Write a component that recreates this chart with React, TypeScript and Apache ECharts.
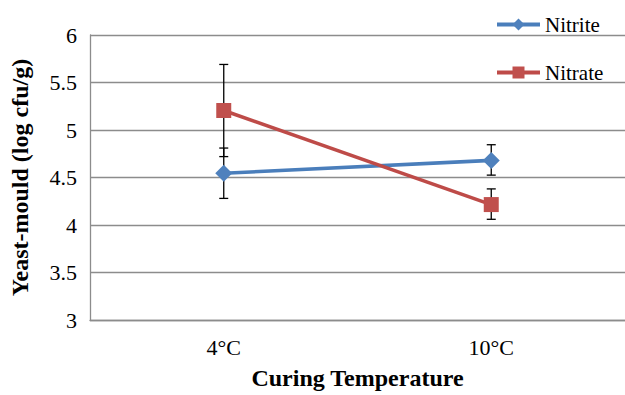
import React, { useEffect, useRef } from "react";
import * as echarts from "echarts";

const categories = ["4°C", "10°C"];
const seriesNames = ["Nitrite", "Nitrate"];
const nitrite = [4.545, 4.68];
const nitriteLow = [4.28, 4.525];
const nitriteHigh = [4.81, 4.845];
const nitrate = [5.205, 4.215];
const nitrateLow = [4.72, 4.06];
const nitrateHigh = [5.69, 4.38];
const yTicks = { min: 3, max: 6, interval: 0.5 };

const FONT = "Liberation Serif";

export default function App() {
  const ref = useRef<HTMLDivElement>(null);
  useEffect(() => {
    if (!ref.current) return;
    const chart = echarts.init(ref.current, undefined, { renderer: "svg" });
    const errData: number[][] = [];
    categories.forEach((_, i) => {
      errData.push([i, nitriteLow[i], nitriteHigh[i]]);
      errData.push([i, nitrateLow[i], nitrateHigh[i]]);
    });
    const renderItem = (params: any, api: any) => {
      const x = api.value(0);
      const lo = api.coord([x, api.value(1)]);
      const hi = api.coord([x, api.value(2)]);
      const w = 4.5;
      const style = { stroke: "#000", lineWidth: 1.3 };
      return {
        type: "group",
        children: [
          { type: "line", shape: { x1: lo[0], y1: lo[1], x2: hi[0], y2: hi[1] }, style },
          { type: "line", shape: { x1: lo[0] - w, y1: lo[1], x2: lo[0] + w, y2: lo[1] }, style },
          { type: "line", shape: { x1: hi[0] - w, y1: hi[1], x2: hi[0] + w, y2: hi[1] }, style },
        ],
      };
    };
    const legendText = { fontFamily: "Times New Roman", fontSize: 21, color: "#000" };
    chart.setOption({
      animation: false,
      backgroundColor: "#fff",
      textStyle: { fontFamily: FONT },
      grid: { left: 88, right: 0, top: 35, bottom: 70, containLabel: false },
      legend: {
        orient: "vertical",
        left: 490,
        top: 9,
        itemGap: 27,
        itemWidth: 43,
        itemHeight: 15,
        textStyle: legendText,
        lineStyle: { width: 4 },
        data: seriesNames,
      },
      xAxis: {
        type: "category",
        data: categories,
        boundaryGap: true,
        axisLine: { lineStyle: { color: "#8c8c8c", width: 1.3 } },
        axisTick: { show: false },
        axisLabel: { fontFamily: FONT, fontSize: 22, color: "#000", margin: 16 },
        name: "Curing Temperature",
        nameLocation: "middle",
        nameGap: 46,
        nameTextStyle: { fontFamily: FONT, fontSize: 24, fontWeight: "bold", color: "#000" },
      },
      yAxis: {
        type: "value",
        min: yTicks.min,
        max: yTicks.max,
        interval: yTicks.interval,
        axisLine: { show: true, lineStyle: { color: "#8c8c8c", width: 1.3 } },
        axisTick: { show: false },
        splitLine: { lineStyle: { color: "#8c8c8c", width: 1.3 } },
        axisLabel: { fontFamily: FONT, fontSize: 22, color: "#000", margin: 13 },
        name: "Yeast-mould (log cfu/g)",
        nameLocation: "middle",
        nameGap: 58,
        nameTextStyle: { fontFamily: FONT, fontSize: 24, fontWeight: "bold", color: "#000" },
      },
      series: [
        {
          type: "custom",
          name: "err",
          renderItem,
          data: errData,
          z: 1,
          silent: true,
        },
        {
          name: seriesNames[0],
          type: "line",
          data: nitrite,
          symbol: "diamond",
          symbolSize: 17,
          z: 3,
          lineStyle: { color: "#4A7EBB", width: 3.6 },
          itemStyle: { color: "#4F81BD" },
        },
        {
          name: seriesNames[1],
          type: "line",
          data: nitrate,
          symbol: "rect",
          symbolSize: 15,
          z: 3,
          lineStyle: { color: "#BE4B48", width: 3.6 },
          itemStyle: { color: "#C0504D" },
        },
      ],
    });
    return () => chart.dispose();
  }, []);
  return (
    <div
      ref={ref}
      style={{ position: "fixed", left: 0, top: 0, width: 625, height: 395 }}
    />
  );
}
